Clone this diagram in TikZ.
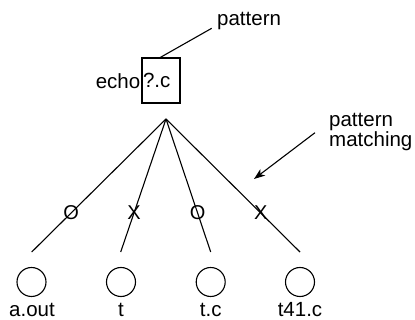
\documentclass[tikz,border=0pt]{standalone}
\usepackage{fontspec}
\setmainfont{Liberation Sans}
\usetikzlibrary{arrows.meta}
\begin{document}
\begin{tikzpicture}[x=1pt,y=-1pt,
  every node/.style={font=\fontsize{20.5}{20.5}\selectfont, inner sep=0pt},
  conn/.style={line width=1.1pt},
  leaf/.style={draw, circle, line width=1.1pt, minimum size=29pt},
  oxmark/.style={font=\fontsize{20}{20}\selectfont}]
\useasboundingbox (0,0) rectangle (415,320);
% box
\node[draw, line width=1.1pt, minimum width=38pt, minimum height=45pt, text width=36pt, align=left, inner xsep=1pt] (box) at (161,80.5) {?.c};
\node[anchor=east] (echo) at (140.5,81) {echo};
% pattern label
\node[anchor=west] (pat) at (217,21) {pattern};
\coordinate (patend) at (211.7,28.3);
\coordinate (boxtop) at (159.3,58);
\draw[conn] (boxtop) -- (patend);
% tree
\coordinate (apex) at (166,119);
\coordinate (e1) at (31.7,252);
\coordinate (e2) at (120.7,252);
\coordinate (e3) at (210.7,252);
\coordinate (e4) at (300,252);
\draw[conn] (apex) -- node[oxmark, pos=0.707] (m1) {O} (e1);
\draw[conn] (apex) -- node[oxmark, pos=0.707] (m2) {X} (e2);
\draw[conn] (apex) -- node[oxmark, pos=0.707] (m3) {O} (e3);
\draw[conn] (apex) -- node[oxmark, pos=0.707] (m4) {X} (e4);
% leaves
\node[leaf] (c1) at (31.5,282) {};
\node[leaf] (c2) at (121,282) {};
\node[leaf] (c3) at (210.7,282) {};
\node[leaf] (c4) at (300,282) {};
\node[anchor=base] (l1) at (32,317) {a.out};
\node[anchor=base] (l2) at (121,317) {t};
\node[anchor=base] (l3) at (210.7,317) {t.c};
\node[anchor=base] (l4) at (300,317) {t41.c};
% pattern matching
\node[anchor=north west, align=left] (pm) at (329,113) {pattern\\matching};
\coordinate (arrstart) at (315,132.7);
\coordinate (arrtip) at (254,179);
\draw[conn, -{Stealth[length=11pt,width=8pt,inset=3pt]}] (arrstart) -- (arrtip);
\end{tikzpicture}
\end{document}
